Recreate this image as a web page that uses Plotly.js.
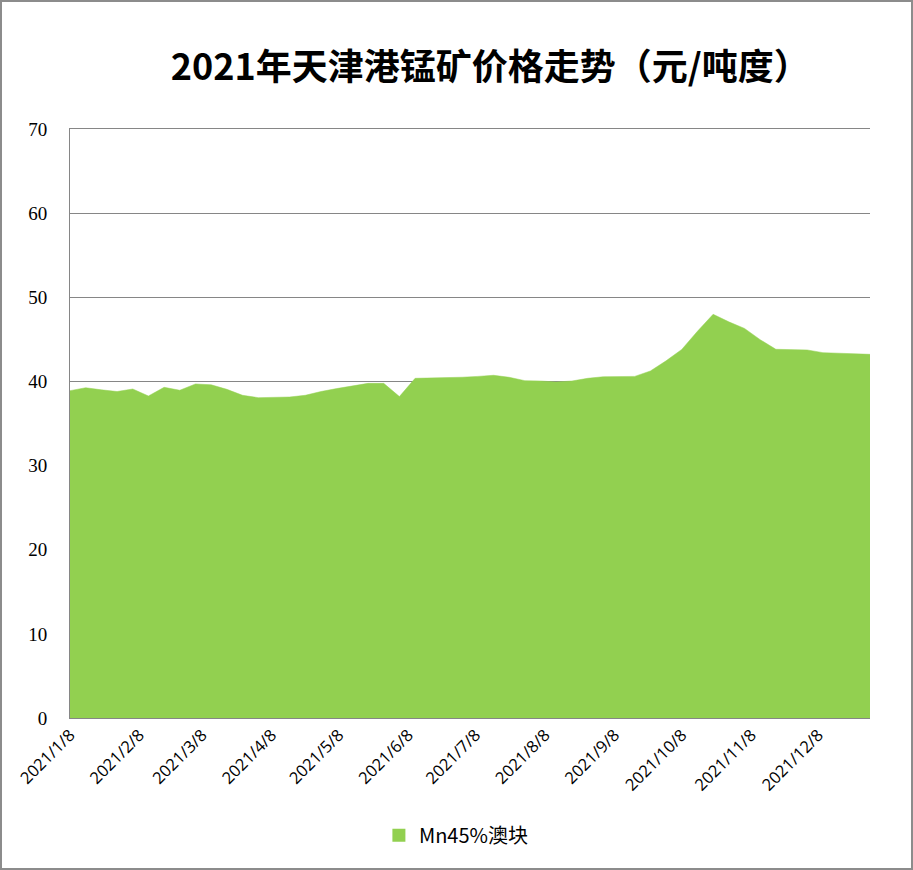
<!DOCTYPE html>
<html>
<head>
<meta charset="utf-8">
<script src="https://cdn.plot.ly/plotly-3.0.1.min.js"></script>
<style>
html,body{margin:0;padding:0;background:#fff;}
#wrap{position:relative;width:913px;height:870px;}
#chart{width:913px;height:870px;}
#frame{position:absolute;left:0;top:0;width:909px;height:866px;border:2px solid #8c8c8c;box-sizing:content-box;pointer-events:none;}
</style>
</head>
<body>
<div id="wrap"><div id="chart"></div><div id="frame"></div></div>
<script>
const dates = [
 '2021-01-08','2021-01-15','2021-01-22','2021-01-29','2021-02-05','2021-02-12','2021-02-19','2021-02-26',
 '2021-03-05','2021-03-12','2021-03-19','2021-03-26','2021-04-02','2021-04-09','2021-04-16','2021-04-23',
 '2021-04-30','2021-05-07','2021-05-14','2021-05-21','2021-05-28','2021-06-04','2021-06-11','2021-06-18',
 '2021-06-25','2021-07-02','2021-07-09','2021-07-16','2021-07-23','2021-07-30','2021-08-06','2021-08-13',
 '2021-08-20','2021-08-27','2021-09-03','2021-09-10','2021-09-17','2021-09-24','2021-10-01','2021-10-08',
 '2021-10-15','2021-10-22','2021-10-29','2021-11-05','2021-11-12','2021-11-19','2021-11-26','2021-12-03',
 '2021-12-10','2021-12-17','2021-12-24','2021-12-31'
];
const prices = [
 38.9, 39.25, 39.0, 38.8, 39.1, 38.27, 39.3, 38.95,
 39.7, 39.6, 39.06, 38.35, 38.07, 38.15, 38.15, 38.35,
 38.8, 39.15, 39.45, 39.77, 39.77, 38.2, 40.37, 40.4,
 40.45, 40.5, 40.6, 40.73, 40.49, 40.09, 40.05, 39.93,
 40.05, 40.37, 40.56, 40.6, 40.6, 41.24, 42.45, 43.8,
 45.96, 47.98, 47.08, 46.3, 44.96, 43.82, 43.74, 43.74,
 43.42, 43.34, 43.3, 43.22
];
const seriesName = 'Mn45%澳块';
const tickDates = ['2021-01-08','2021-02-08','2021-03-08','2021-04-08','2021-05-08','2021-06-08',
 '2021-07-08','2021-08-08','2021-09-08','2021-10-08','2021-11-08','2021-12-08'];
const tickLabels = ['2021/1/8','2021/2/8','2021/3/8','2021/4/8','2021/5/8','2021/6/8',
 '2021/7/8','2021/8/8','2021/9/8','2021/10/8','2021/11/8','2021/12/8'];
const yTicks = [0,10,20,30,40,50,60,70];
const green = '#92D050';

const traces = [
 {x: dates, y: prices, type:'scatter', mode:'lines', fill:'tozeroy', fillcolor: green,
  line:{color: green, width:0.5}, name: seriesName, showlegend:false, hoverinfo:'x+y'},
 {x:[null], y:[null], type:'scatter', mode:'markers', name: seriesName,
  marker:{symbol:'square', size:13, color: green}, showlegend:true}
];

const layout = {
 width:913, height:870,
 margin:{l:70, r:43, t:129, b:152},
 paper_bgcolor:'#fff', plot_bgcolor:'#fff',
 title:{text:'2021年天津港锰矿价格走势（元/吨度）', x:0.537, xanchor:'center', y:0.922, yanchor:'middle',
   xref:'container', yref:'container',
   font:{family:'"Noto Sans CJK SC", "Noto Sans", sans-serif', size:36, color:'#000', weight:'bold'}},
 xaxis:{type:'date', range:['2021-01-08','2021-12-31'], tickvals: tickDates, ticktext: tickLabels,
   tickangle:-45, showgrid:false, zeroline:false, showline:true, mirror:true, linecolor:'#868686', linewidth:1,
   ticks:'', tickfont:{family:'"Open Sans", "Noto Sans", sans-serif', size:16.5, color:'#000'}},
 yaxis:{range:[0,70], tickvals: yTicks, showgrid:true, gridcolor:'#868686', gridwidth:1,
   zeroline:false, showline:true, linecolor:'#868686', linewidth:1, ticks:'',
   ticklabelstandoff:18,
   tickfont:{family:'"Liberation Serif", serif', size:19, color:'#000'}},
 showlegend:true,
 legend:{orientation:'h', x:0.483, xanchor:'center', y:-0.199, yanchor:'middle',
   font:{family:'"Noto Sans CJK SC", "Noto Sans", sans-serif', size:20, color:'#000'},
   itemwidth:30, tracegroupgap:0},
 hovermode:'closest'
};
Plotly.newPlot('chart', traces, layout, {displayModeBar:false});
</script>
</body>
</html>
